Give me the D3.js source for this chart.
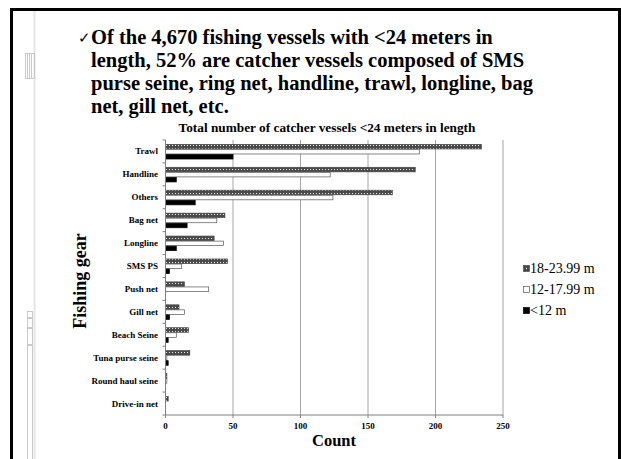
<!DOCTYPE html>
<html>
<head>
<meta charset="utf-8">
<script src="https://cdn.jsdelivr.net/npm/d3@7"></script>
<style>
  html, body { margin: 0; padding: 0; background: #fff; }
  svg { display: block; }
  text { font-family: "Liberation Serif", "Times New Roman", serif; }
</style>
</head>
<body>
<svg id="chart" width="621" height="459"></svg>
<script>
// ---- data ----
const categories = ["Trawl", "Handline", "Others", "Bag net", "Longline", "SMS PS",
  "Push net", "Gill net", "Beach Seine", "Tuna purse seine", "Round haul seine", "Drive-in net"];
const seriesNames = ["18-23.99 m", "12-17.99 m", "<12 m"];
const vals18to24 = [234, 185, 168, 44, 36, 46, 14, 10, 17, 18, 1, 2];
const vals12to18 = [188, 122, 124, 38, 43, 12, 32, 14, 8, 1, 1, 0];
const valsUnder12 = [50, 8, 22, 16, 8, 3, 0, 3, 2, 2, 0, 0];
const xTicks = [0, 50, 100, 150, 200, 250];
const headerLines = [
  "Of the 4,670 fishing vessels with <24 meters in",
  "length, 52% are catcher vessels composed of SMS",
  "purse seine, ring net, handline, trawl, longline, bag",
  "net, gill net, etc."
];
const chartTitle = "Total number of catcher vessels <24 meters in length";
const yTitle = "Fishing gear";
const xTitle = "Count";

const seriesValues = [vals18to24, vals12to18, valsUnder12];

const svg = d3.select("#chart");

// pattern
const defs = svg.append("defs");
const pat = defs.append("pattern").attr("id", "dots")
  .attr("patternUnits", "userSpaceOnUse").attr("width", 3).attr("height", 3);
pat.append("rect").attr("width", 3).attr("height", 3).attr("fill", "#4a4a4a");
pat.append("rect").attr("x", 1).attr("y", 1).attr("width", 1).attr("height", 1).attr("fill", "#ececec");

// ---- slide decorations ----
svg.append("line").attr("x1", 34.5).attr("x2", 34.5).attr("y1", 11).attr("y2", 459)
  .attr("stroke", "#e6e6e6").attr("stroke-width", 2);
const deco = svg.append("g").attr("fill", "none").attr("stroke", "#bdbdbd").attr("stroke-width", 0.8);
deco.append("rect").attr("x", 25.5).attr("y", 53.5).attr("width", 9).attr("height", 25);
[27.5, 29.5, 31.5].forEach(x => deco.append("line").attr("x1", x).attr("x2", x).attr("y1", 53.5).attr("y2", 78.5));
[[311, 6], [318, 9], [328, 16], [345, 114]].forEach(([y, h]) =>
  deco.append("rect").attr("x", 27.5).attr("y", y + 0.5).attr("width", 5).attr("height", h));

// frame
svg.append("path").attr("d", "M11.5,459 V9.5 H619.5 V459")
  .attr("fill", "none").attr("stroke", "#000").attr("stroke-width", 3);

// ---- header text ----
const hdr = svg.append("g").attr("font-weight", "bold").attr("font-size", 20.5).attr("fill", "#000");
const hdrBase = [44, 67, 90, 113];
hdr.append("text").attr("x", 78).attr("y", hdrBase[0] - 1).attr("font-family", "DejaVu Sans")
  .attr("font-size", 15).attr("font-weight", "normal").text("\u2713");
headerLines.forEach((t, i) => hdr.append("text").attr("x", 91).attr("y", hdrBase[i]).text(t));

// ---- chart ----
const x = d3.scaleLinear().domain([0, 250]).range([165.5, 503]);
const y0 = d3.scaleBand().domain(categories).range([140, 415]).paddingInner(0.34).paddingOuter(0.17);
const y1 = d3.scaleBand().domain(seriesNames).range([0, y0.bandwidth()]);
const step = y0.step();

// gridlines
svg.append("g").selectAll("line").data(xTicks.slice(1)).join("line")
  .attr("x1", d => x(d)).attr("x2", d => x(d)).attr("y1", 140).attr("y2", 415)
  .attr("stroke", "#a6a6a6").attr("stroke-width", 1);

const fills = ["url(#dots)", "#fff", "#000"];
const strokes = ["#444", "#555", "#000"];
seriesValues.forEach((vals, si) => {
  svg.append("g").selectAll("rect").data(categories).join("rect")
    .attr("x", x(0))
    .attr("y", c => y0(c) + y1(seriesNames[si]) + 0.5)
    .attr("width", (c, i) => Math.max(0, x(vals[i]) - x(0)))
    .attr("height", y1.bandwidth() - 0.5)
    .attr("fill", fills[si])
    .attr("stroke", (c, i) => vals[i] > 0 ? strokes[si] : "none")
    .attr("stroke-width", 0.7);
});

// axes
const axisCol = "#7f7f7f";
svg.append("line").attr("x1", x(0)).attr("x2", x(0)).attr("y1", 140).attr("y2", 415)
  .attr("stroke", axisCol);
svg.append("line").attr("x1", x(0)).attr("x2", x(250)).attr("y1", 415).attr("y2", 415)
  .attr("stroke", axisCol);
const bounds = d3.range(categories.length + 1).map(i => 140 + i * step);
svg.append("g").selectAll("line").data(bounds).join("line")
  .attr("x1", x(0) - 3).attr("x2", x(0)).attr("y1", d => d).attr("y2", d => d).attr("stroke", axisCol);
svg.append("g").selectAll("line").data(xTicks).join("line")
  .attr("x1", d => x(d)).attr("x2", d => x(d)).attr("y1", 415).attr("y2", 418).attr("stroke", axisCol);
svg.append("g").selectAll("text").data(xTicks).join("text")
  .attr("x", d => x(d)).attr("y", 428.5).attr("text-anchor", "middle")
  .attr("font-size", 9).attr("font-weight", "bold").text(d => d);

// category labels
svg.append("g").selectAll("text").data(categories).join("text")
  .attr("x", 158).attr("y", c => y0(c) + y0.bandwidth() / 2 + 3)
  .attr("text-anchor", "end").attr("font-size", 9).attr("font-weight", "bold").text(c => c);

// titles
svg.append("text").attr("x", 327).attr("y", 132).attr("text-anchor", "middle")
  .attr("font-size", 13.3).attr("font-weight", "bold").text(chartTitle);
svg.append("text").attr("transform", "translate(86,281) rotate(-90)").attr("text-anchor", "middle")
  .attr("font-size", 18).attr("font-weight", "bold").text(yTitle);
svg.append("text").attr("x", 334).attr("y", 446).attr("text-anchor", "middle")
  .attr("font-size", 16.5).attr("font-weight", "bold").text(xTitle);

// legend
const leg = svg.append("g");
seriesNames.forEach((s, i) => {
  const yy = 268.5 + i * 21;
  leg.append("rect").attr("x", 523.5).attr("y", yy - 3).attr("width", 6).attr("height", 6)
    .attr("fill", fills[i]).attr("stroke", strokes[i]).attr("stroke-width", 0.7);
  leg.append("text").attr("x", 530).attr("y", yy + 4.5).attr("font-size", 14).text(s);
});
</script>
</body>
</html>
